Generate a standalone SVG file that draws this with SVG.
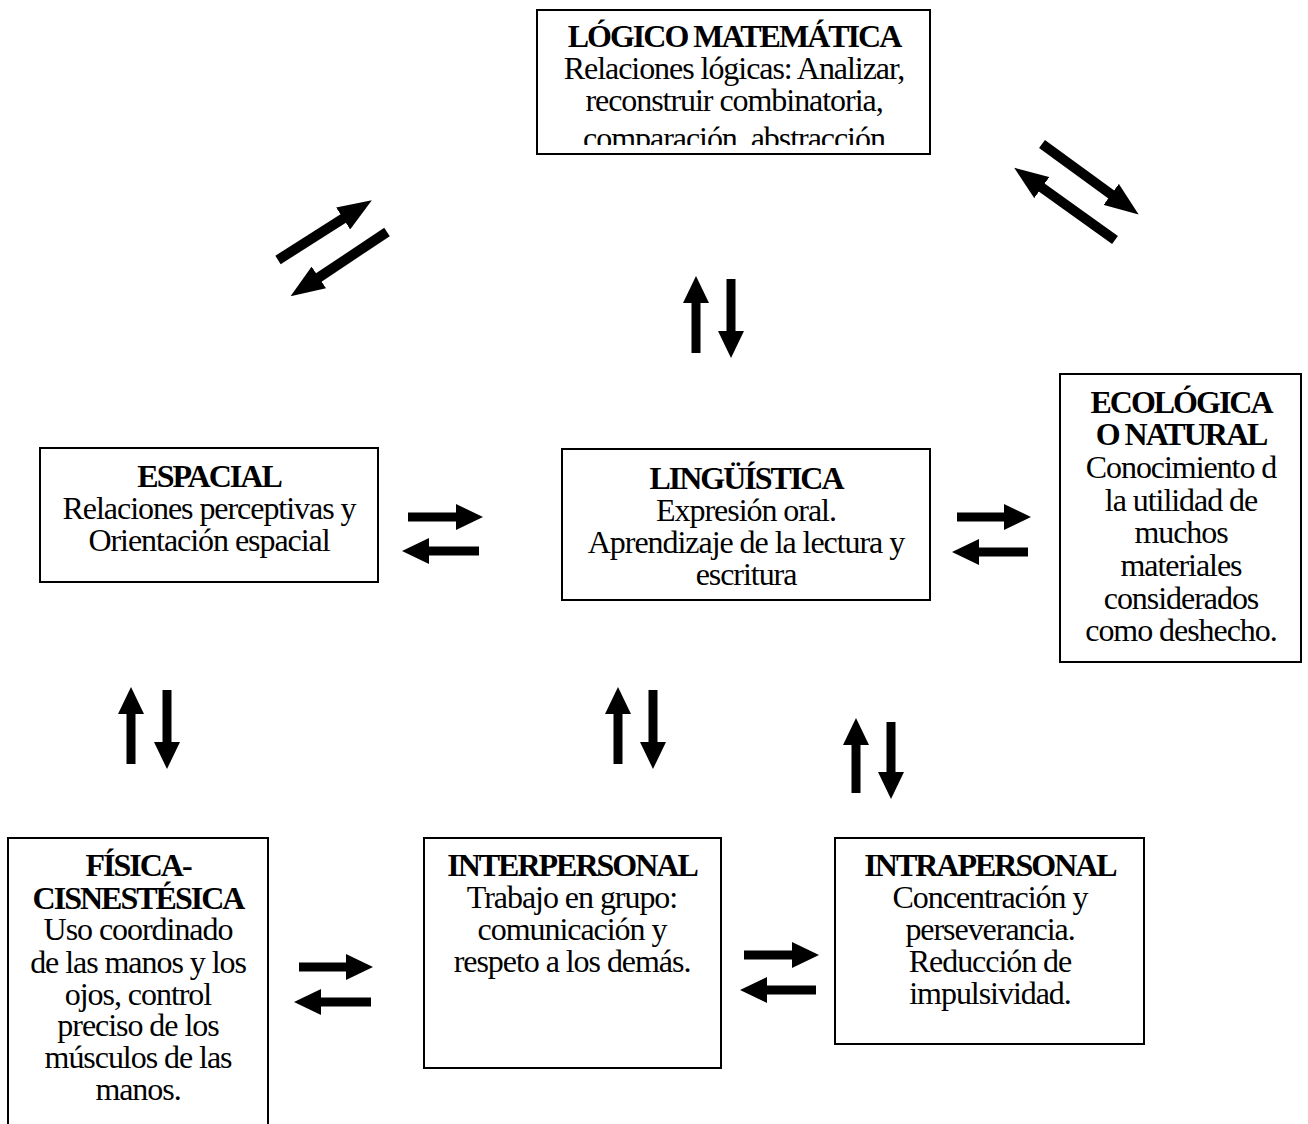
<svg xmlns="http://www.w3.org/2000/svg" width="1308" height="1124" viewBox="0 0 1308 1124">
<style>
.box{fill:#fff;stroke:#000;stroke-width:2}
text{font-family:"Liberation Serif","Times New Roman",serif;font-size:32px;fill:#000;text-anchor:middle;letter-spacing:-1.05px}
.t{font-weight:bold;letter-spacing:-2px}
.c{stroke:#000;stroke-width:9;fill:none}
.h{marker-end:url(#head)}
.d{stroke-width:10;marker-end:url(#headD)}
</style>
<defs>
<marker id="head" markerUnits="userSpaceOnUse" markerWidth="27" markerHeight="26" viewBox="0 0 27 26" refX="1" refY="13" orient="auto"><path d="M0,0 L27,13 L0,26 Z" fill="#000"/></marker>
<marker id="headD" markerUnits="userSpaceOnUse" markerWidth="34" markerHeight="26" viewBox="0 0 34 26" refX="1" refY="13" orient="auto"><path d="M0,0 L34,13 L0,26 Z" fill="#000"/></marker>
<clipPath id="clipL"><rect x="537" y="10" width="393" height="135"/></clipPath>
</defs>
<rect width="1308" height="1124" fill="#fff"/>

<g id="logico">
<rect class="box" x="537" y="10" width="393" height="144"/>
<g clip-path="url(#clipL)">
<text class="t" x="734" y="47">LÓGICO MATEMÁTICA</text>
<text x="734" y="79">Relaciones lógicas: Analizar,</text>
<text x="734" y="111">reconstruir combinatoria,</text>
<text x="734" y="149">comparación, abstracción</text>
</g>
</g>

<g id="espacial">
<rect class="box" x="40" y="448" width="338" height="134"/>
<text class="t" x="209" y="487">ESPACIAL</text>
<text x="209" y="519">Relaciones perceptivas y</text>
<text x="209" y="551">Orientación espacial</text>
</g>

<g id="linguistica">
<rect class="box" x="562" y="449" width="368" height="151"/>
<text class="t" x="746" y="489">LINGÜÍSTICA</text>
<text x="746" y="521">Expresión oral.</text>
<text x="746" y="553">Aprendizaje de la lectura y</text>
<text x="746" y="585">escritura</text>
</g>

<g id="ecologica">
<rect class="box" x="1060" y="374" width="241" height="288"/>
<text class="t" x="1181" y="413">ECOLÓGICA</text>
<text class="t" x="1181" y="445">O NATURAL</text>
<text x="1181" y="478">Conocimiento d</text>
<text x="1181" y="511">la utilidad de</text>
<text x="1181" y="543">muchos</text>
<text x="1181" y="576">materiales</text>
<text x="1181" y="609">considerados</text>
<text x="1181" y="641">como deshecho.</text>
</g>

<g id="fisica">
<rect class="box" x="8" y="838" width="260" height="300"/>
<text class="t" x="138" y="876">FÍSICA-</text>
<text class="t" x="138" y="909">CISNESTÉSICA</text>
<text x="138" y="940">Uso coordinado</text>
<text x="138" y="973">de las manos y los</text>
<text x="138" y="1005">ojos, control</text>
<text x="138" y="1036">preciso de los</text>
<text x="138" y="1068">músculos de las</text>
<text x="138" y="1100">manos.</text>
</g>

<g id="interpersonal">
<rect class="box" x="424" y="838" width="297" height="230"/>
<text class="t" x="572" y="876">INTERPERSONAL</text>
<text x="572" y="908">Trabajo en grupo:</text>
<text x="572" y="940">comunicación y</text>
<text x="572" y="972">respeto a los demás.</text>
</g>

<g id="intrapersonal">
<rect class="box" x="835" y="838" width="309" height="206"/>
<text class="t" x="990" y="876">INTRAPERSONAL</text>
<text x="990" y="908">Concentración y</text>
<text x="990" y="940">perseverancia.</text>
<text x="990" y="972">Reducción de</text>
<text x="990" y="1004">impulsividad.</text>
</g>

<g id="connectors">
<line class="c d" x1="278" y1="260" x2="344" y2="218"/>
<line class="c d" x1="387" y1="232" x2="318" y2="278"/>
<line class="c d" x1="1042" y1="144" x2="1112" y2="195"/>
<line class="c d" x1="1115" y1="240" x2="1041" y2="187"/>
<line class="c h" x1="696" y1="353" x2="696" y2="302"/>
<line class="c h" x1="731" y1="279" x2="731" y2="332"/>
<line class="c h" x1="408" y1="517" x2="457" y2="517"/>
<line class="c h" x1="479" y1="551" x2="428" y2="551"/>
<line class="c h" x1="957" y1="517" x2="1005" y2="517"/>
<line class="c h" x1="1028" y1="552" x2="978" y2="552"/>
<line class="c h" x1="131" y1="764" x2="131" y2="713"/>
<line class="c h" x1="167" y1="690" x2="167" y2="743"/>
<line class="c h" x1="618" y1="764" x2="618" y2="713"/>
<line class="c h" x1="653" y1="690" x2="653" y2="743"/>
<line class="c h" x1="856" y1="793" x2="856" y2="744"/>
<line class="c h" x1="891" y1="722" x2="891" y2="773"/>
<line class="c h" x1="299" y1="967" x2="347" y2="967"/>
<line class="c h" x1="371" y1="1002" x2="320" y2="1002"/>
<line class="c h" x1="744" y1="955" x2="793" y2="955"/>
<line class="c h" x1="816" y1="990" x2="766" y2="990"/>
</g>
</svg>
